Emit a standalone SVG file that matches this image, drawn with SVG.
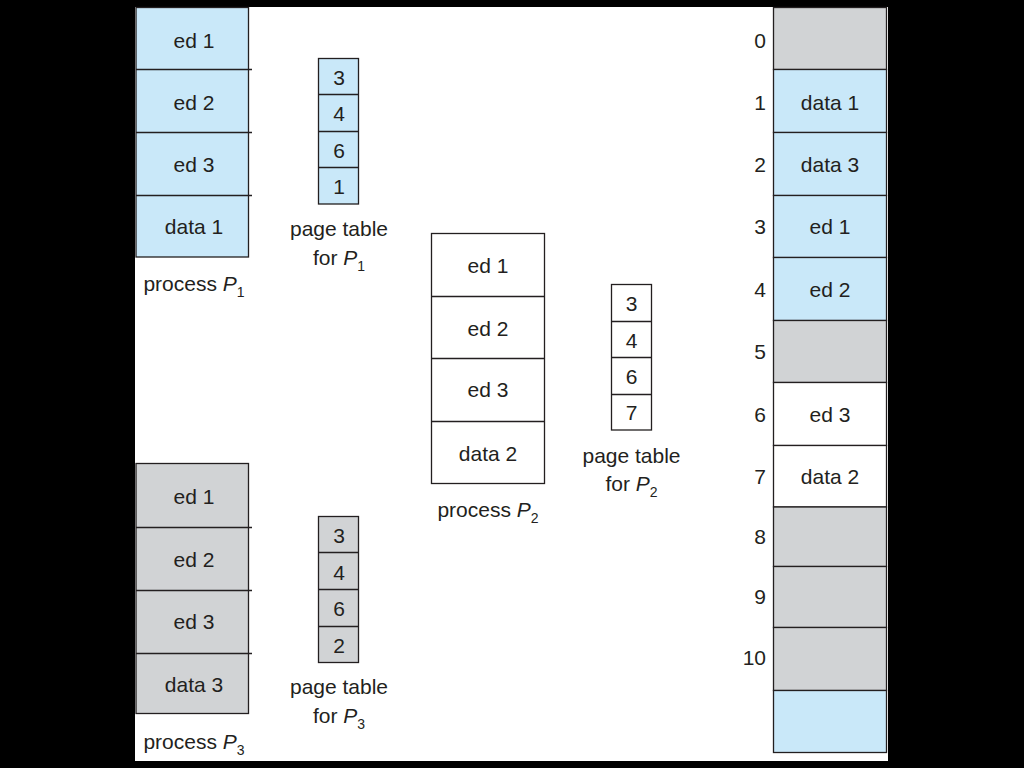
<svg xmlns="http://www.w3.org/2000/svg" width="1024" height="768" viewBox="0 0 1024 768">
<style>
.t{font-family:"Liberation Sans",Arial,sans-serif;font-size:21px;fill:#231f20;text-anchor:middle}
.n{font-family:"Liberation Sans",Arial,sans-serif;font-size:21px;fill:#231f20;text-anchor:end}
.s{font-size:14px}
.ln{stroke:#231f20;stroke-width:1.3;fill:none}
.blue{fill:#c9e8f9;stroke:#231f20;stroke-width:1.3}
.gray{fill:#d1d3d5;stroke:#231f20;stroke-width:1.3}
.white{fill:#ffffff;stroke:#231f20;stroke-width:1.3}
</style>
<rect x="0" y="0" width="1024" height="768" fill="#000"/>
<rect x="135" y="7" width="753" height="754" fill="#fff"/>

<g id="process-p1">
<rect class="blue" x="136" y="7.5" width="112.5" height="249.5"/>
<line class="ln" x1="136" y1="69.5" x2="252" y2="69.5"/>
<line class="ln" x1="136" y1="132.5" x2="252" y2="132.5"/>
<line class="ln" x1="136" y1="195.5" x2="252" y2="195.5"/>
<text class="t" x="194" y="48">ed 1</text>
<text class="t" x="194" y="110">ed 2</text>
<text class="t" x="194" y="172">ed 3</text>
<text class="t" x="194" y="234">data 1</text>
<text class="t" x="194" y="291">process <tspan font-style="italic">P</tspan><tspan class="s" dy="6">1</tspan></text>
</g>

<g id="pagetable-p1">
<rect class="blue" x="318.5" y="58.5" width="40" height="145.5"/>
<line class="ln" x1="318.5" y1="94.5" x2="358.5" y2="94.5"/>
<line class="ln" x1="318.5" y1="131.5" x2="358.5" y2="131.5"/>
<line class="ln" x1="318.5" y1="167.5" x2="358.5" y2="167.5"/>
<text class="t" x="339" y="85">3</text>
<text class="t" x="339" y="121">4</text>
<text class="t" x="339" y="158">6</text>
<text class="t" x="339" y="194">1</text>
<text class="t" x="339" y="236">page table</text>
<text class="t" x="339" y="265">for <tspan font-style="italic">P</tspan><tspan class="s" dy="6">1</tspan></text>
</g>

<g id="process-p2">
<rect class="white" x="431.5" y="233.5" width="113" height="250"/>
<line class="ln" x1="431.5" y1="296.5" x2="544.5" y2="296.5"/>
<line class="ln" x1="431.5" y1="358.5" x2="544.5" y2="358.5"/>
<line class="ln" x1="431.5" y1="421.5" x2="544.5" y2="421.5"/>
<text class="t" x="488" y="273">ed 1</text>
<text class="t" x="488" y="336">ed 2</text>
<text class="t" x="488" y="397">ed 3</text>
<text class="t" x="488" y="461">data 2</text>
<text class="t" x="488" y="517">process <tspan font-style="italic">P</tspan><tspan class="s" dy="6">2</tspan></text>
</g>

<g id="pagetable-p2">
<rect class="white" x="611.5" y="284.5" width="40" height="145.5"/>
<line class="ln" x1="611.5" y1="321.5" x2="651.5" y2="321.5"/>
<line class="ln" x1="611.5" y1="357.5" x2="651.5" y2="357.5"/>
<line class="ln" x1="611.5" y1="394.5" x2="651.5" y2="394.5"/>
<text class="t" x="631.5" y="311">3</text>
<text class="t" x="631.5" y="348">4</text>
<text class="t" x="631.5" y="384">6</text>
<text class="t" x="631.5" y="420">7</text>
<text class="t" x="631.5" y="463">page table</text>
<text class="t" x="631.5" y="491">for <tspan font-style="italic">P</tspan><tspan class="s" dy="6">2</tspan></text>
</g>

<g id="process-p3">
<rect class="gray" x="136" y="463.5" width="112.5" height="250"/>
<line class="ln" x1="136" y1="527.5" x2="252" y2="527.5"/>
<line class="ln" x1="136" y1="590.5" x2="252" y2="590.5"/>
<line class="ln" x1="136" y1="653.5" x2="252" y2="653.5"/>
<text class="t" x="194" y="504">ed 1</text>
<text class="t" x="194" y="567">ed 2</text>
<text class="t" x="194" y="629">ed 3</text>
<text class="t" x="194" y="692">data 3</text>
<text class="t" x="194" y="749">process <tspan font-style="italic">P</tspan><tspan class="s" dy="6">3</tspan></text>
</g>

<g id="pagetable-p3">
<rect class="gray" x="318.5" y="516.5" width="40" height="146"/>
<line class="ln" x1="318.5" y1="552.5" x2="358.5" y2="552.5"/>
<line class="ln" x1="318.5" y1="589.5" x2="358.5" y2="589.5"/>
<line class="ln" x1="318.5" y1="626.5" x2="358.5" y2="626.5"/>
<text class="t" x="339" y="543">3</text>
<text class="t" x="339" y="580">4</text>
<text class="t" x="339" y="616">6</text>
<text class="t" x="339" y="653">2</text>
<text class="t" x="339" y="694">page table</text>
<text class="t" x="339" y="723">for <tspan font-style="italic">P</tspan><tspan class="s" dy="6">3</tspan></text>
</g>

<g id="physical-memory">
<rect class="gray" x="773.5" y="7.5" width="113" height="62"/>
<rect class="blue" x="773.5" y="69.5" width="113" height="63"/>
<rect class="blue" x="773.5" y="132.5" width="113" height="63"/>
<rect class="blue" x="773.5" y="195.5" width="113" height="62"/>
<rect class="blue" x="773.5" y="257.5" width="113" height="63"/>
<rect class="gray" x="773.5" y="320.5" width="113" height="62"/>
<rect class="white" x="773.5" y="382.5" width="113" height="63"/>
<rect class="white" x="773.5" y="445.5" width="113" height="61.5"/>
<rect class="gray" x="773.5" y="507" width="113" height="59.5"/>
<rect class="gray" x="773.5" y="566.5" width="113" height="61"/>
<rect class="gray" x="773.5" y="627.5" width="113" height="63"/>
<rect class="blue" x="773.5" y="690.5" width="113" height="62"/>
<text class="t" x="830" y="110">data 1</text>
<text class="t" x="830" y="172">data 3</text>
<text class="t" x="830" y="234">ed 1</text>
<text class="t" x="830" y="297">ed 2</text>
<text class="t" x="830" y="422">ed 3</text>
<text class="t" x="830" y="484">data 2</text>
<text class="n" x="766" y="48">0</text>
<text class="n" x="766" y="110">1</text>
<text class="n" x="766" y="172">2</text>
<text class="n" x="766" y="234">3</text>
<text class="n" x="766" y="297">4</text>
<text class="n" x="766" y="359">5</text>
<text class="n" x="766" y="422">6</text>
<text class="n" x="766" y="484">7</text>
<text class="n" x="766" y="544">8</text>
<text class="n" x="766" y="604">9</text>
<text class="n" x="766" y="665">10</text>
</g>
</svg>
